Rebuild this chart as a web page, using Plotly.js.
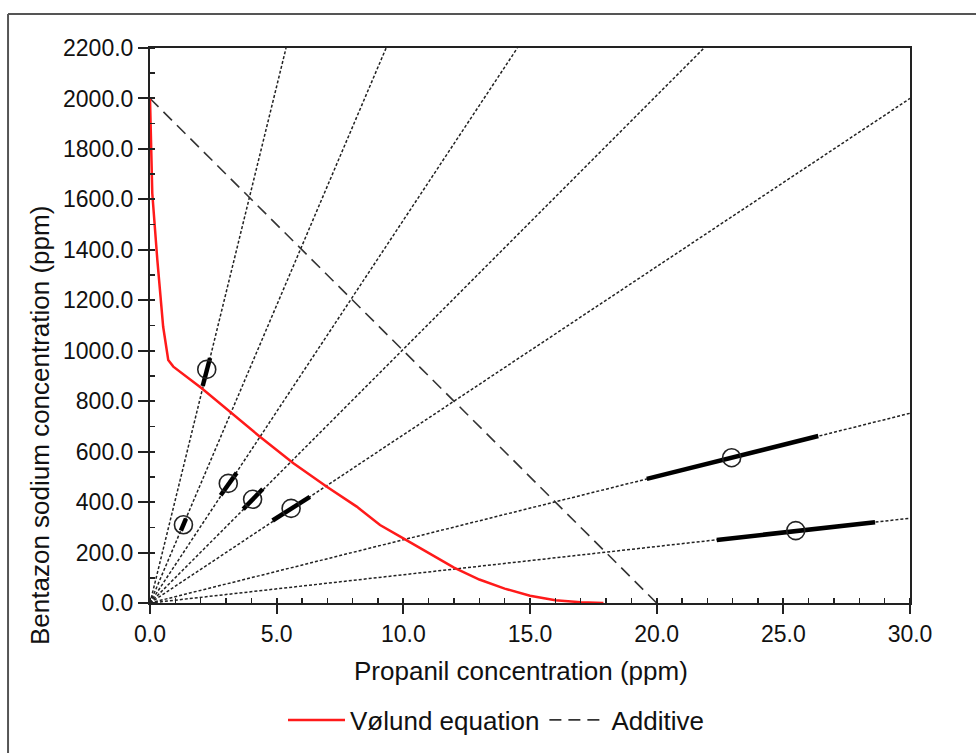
<!DOCTYPE html>
<html>
<head>
<meta charset="utf-8">
<script src="https://cdn.plot.ly/plotly-3.0.1.min.js"></script>
<style>
  html, body { margin: 0; padding: 0; background: #fff; }
  #chart { width: 976px; height: 753px; }
</style>
</head>
<body>
<div id="chart"></div>
<script>
// ---- Data ----
// Vølund equation curve (propanil ppm, bentazon sodium ppm)
const volundX = [0, 0.09, 0.29, 0.52, 0.72, 0.92, 2.04, 3.16, 4.34, 5.66, 6.98, 8.16, 9.08, 10.0, 11.0, 12.0, 13.0, 14.0, 15.0, 16.0, 17.0, 17.9];
const volundY = [2000, 1624, 1359, 1095, 963, 937, 851, 758, 659, 554, 461, 382, 309, 256, 198, 140, 93, 57, 29, 11, 3, 0];

// Additive line
const additiveX = [0, 20];
const additiveY = [2000, 0];

// Mixture-ratio rays from the origin (end point where each leaves the frame)
const rayEndX = [5.37, 9.32, 14.5, 21.87, 30, 30, 30];
const rayEndY = [2200, 2200, 2200, 2200, 2000, 752, 336];

// Observed mixture points and their confidence limits along each ray
const pointX = [2.24, 1.32, 3.09, 4.05, 5.57, 22.96, 25.49];
const pointY = [926, 310, 474, 411, 375, 576, 287];
const ciLowX  = [2.08, 1.22, 2.79, 3.68, 4.84, 19.61, 22.37];
const ciLowY  = [860, 287, 427, 372, 327, 492, 250];
const ciHighX = [2.37, 1.42, 3.42, 4.45, 6.31, 26.38, 28.62];
const ciHighY = [971, 334, 516, 452, 421, 662, 320];

const xTickVals = [0, 5, 10, 15, 20, 25, 30];
const yTickVals = [0, 200, 400, 600, 800, 1000, 1200, 1400, 1600, 1800, 2000, 2200];

const xTitle = 'Propanil concentration (ppm)';
const yTitle = 'Bentazon sodium concentration (ppm)';

// ---- Build traces ----
const rayX = [], rayY = [];
rayEndX.forEach((ex, i) => { rayX.push(0, ex, null); rayY.push(0, rayEndY[i], null); });
const ciX = [], ciY = [];
ciLowX.forEach((lx, i) => { ciX.push(lx, ciHighX[i], null); ciY.push(ciLowY[i], ciHighY[i], null); });

const FONT = 'Liberation Sans, Arial, sans-serif';
const traces = [
  { x: rayX, y: rayY, mode: 'lines', line: { color: '#222', width: 1.5, dash: '3px,2px' }, showlegend: false, hoverinfo: 'skip' },
  { x: additiveX, y: additiveY, mode: 'lines', name: 'Additive', legendrank: 2, line: { color: '#333', width: 1.6, dash: '12px,7px' }, hoverinfo: 'skip' },
  { x: ciX, y: ciY, mode: 'lines', line: { color: '#000', width: 4.5 }, showlegend: false, hoverinfo: 'skip' },
  { x: pointX, y: pointY, mode: 'markers', marker: { symbol: 'circle-open', size: 18, color: '#222', line: { width: 1.6, color: '#222' } }, showlegend: false, hoverinfo: 'skip' },
  { x: volundX, y: volundY, mode: 'lines', name: 'Vølund equation', legendrank: 1, line: { color: '#ff1a1a', width: 2.5 }, hoverinfo: 'skip' },
  { x: [], y: [], xaxis: 'x2', yaxis: 'y2', showlegend: false, hoverinfo: 'skip' }
];

const axisCommon = {
  showgrid: false, zeroline: false, showline: true, mirror: true,
  linecolor: '#222', linewidth: 2, automargin: false,
  ticks: 'outside', tickcolor: '#222', tickwidth: 2,
  tickfont: { family: FONT, size: 23, color: '#111' },
  tickformat: '.1f'
};

const layout = {
  width: 976, height: 753,
  margin: { l: 150, r: 66, t: 48, b: 150 },
  paper_bgcolor: '#fff', plot_bgcolor: '#fff',
  font: { family: FONT, color: '#111' },
  xaxis: Object.assign({}, axisCommon, {
    range: [0, 30], tickvals: xTickVals, ticklen: 9,
    minor: { dtick: 1, ticks: 'inside', ticklen: 5, tickcolor: '#222', tickwidth: 1.5 }
  }),
  yaxis: Object.assign({}, axisCommon, {
    range: [0, 2200], tickvals: yTickVals, ticklen: 10,
    minor: { dtick: 100, ticks: 'inside', ticklen: 5, tickcolor: '#222', tickwidth: 1.5 }
  }),
  xaxis2: { overlaying: 'x', anchor: 'y', range: [0, 30], tickvals: xTickVals, ticks: 'inside', ticklen: 5, tickwidth: 2, tickcolor: '#222', showticklabels: false, showgrid: false, zeroline: false, showline: false, automargin: false },
  yaxis2: { overlaying: 'y', anchor: 'x', range: [0, 2200], tickvals: yTickVals, ticks: 'inside', ticklen: 5, tickwidth: 2, tickcolor: '#222', showticklabels: false, showgrid: false, zeroline: false, showline: false, automargin: false },
  annotations: [
    { text: xTitle, xref: 'paper', yref: 'paper', x: (521 - 150) / 760, y: (603 - 671) / 555, xanchor: 'center', yanchor: 'middle', showarrow: false, font: { family: FONT, size: 26, color: '#111' } },
    { text: yTitle, xref: 'paper', yref: 'paper', x: (40 - 150) / 760, y: (603 - 426) / 555, xanchor: 'center', yanchor: 'middle', textangle: -90, showarrow: false, font: { family: FONT, size: 26, color: '#111' } }
  ],
  legend: {
    orientation: 'h', xref: 'container', yref: 'container',
    x: 283 / 976, xanchor: 'left', y: (753 - 720) / 753, yanchor: 'middle',
    font: { family: FONT, size: 26, color: '#111' },
    itemwidth: 57, bgcolor: 'rgba(0,0,0,0)', traceorder: 'normal'
  },
  shapes: [
    { type: 'line', xref: 'paper', yref: 'paper', x0: -0.1868, x1: 1.2, y0: 1.0613, y1: 1.0613, line: { color: '#555', width: 2 } },
    { type: 'line', xref: 'paper', yref: 'paper', x0: -0.1868, x1: -0.1868, y0: 1.0613, y1: -0.3, line: { color: '#555', width: 2 } }
  ],
  showlegend: true
};

Plotly.newPlot('chart', traces, layout, { staticPlot: true, displayModeBar: false });
</script>
</body>
</html>
